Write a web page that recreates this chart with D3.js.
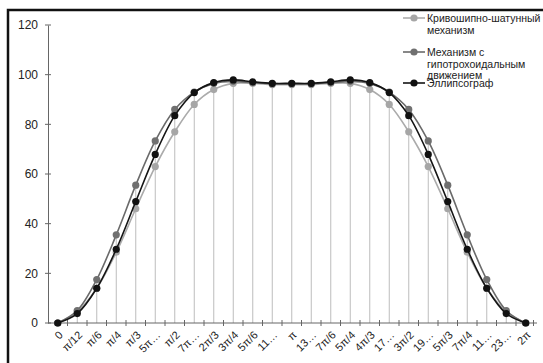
<!DOCTYPE html>
<html><head><meta charset="utf-8">
<script src="https://cdn.jsdelivr.net/npm/d3@7"></script>
<style>body{margin:0;background:#fff}svg{display:block}text{font-family:"Liberation Sans",Arial,sans-serif}</style>
</head><body><svg id="c" width="543" height="363"></svg>
<script>
const categories = ["0","π/12","π/6","π/4","π/3","5π…","π/2","7π…","2π/3","3π/4","5π/6","11…","π","13…","7π/6","5π/4","4π/3","17…","3π/2","19…","5π/3","7π/4","11…","23…","2π"];
const seriesNames = ["Кривошипно-шатунный механизм","Механизм с гипотрохоидальным движением","Эллипсограф"];
const crank = [0,4.5,14,28.5,46,63,77,88,94,96.5,96.5,96,96,96,96.5,96.5,94,88,77,63,46,28.5,14,4.5,0];
const hypo  = [0,5,17.5,35.5,55.5,73.3,86,93,96.5,97.3,96.8,96.3,96.3,96.3,96.8,97.3,96.5,93,86,73.3,55.5,35.5,17.5,5,0];
const ellip = [0,3.8,14,29.7,48.9,67.9,83.5,92.8,96.8,97.9,97.1,96.5,96.5,96.5,97.1,97.9,96.8,92.8,83.5,67.9,48.9,29.7,14,3.8,0];
const yTicks = [0,20,40,60,80,100,120];

const svg = d3.select("#c");
const idx = d3.range(categories.length);
const x = d3.scaleBand().domain(idx).range([48,535.5]).padding(0);
const cx = i => x(i) + x.bandwidth()/2;
const y = d3.scaleLinear().domain([0,120]).range([323,25]);

// border
svg.append("rect").attr("x",8).attr("y",10).attr("width",600).attr("height",400)
  .attr("fill","none").attr("stroke","#111").attr("stroke-width",2.5);

const series = [
  {name:seriesNames[0], vals:crank, line:"#ababab", mark:"#a6a6a6"},
  {name:seriesNames[1], vals:hypo,  line:"#6a6a6a", mark:"#707070"},
  {name:seriesNames[2], vals:ellip, line:"#151515", mark:"#111"}
];

// drop lines
svg.append("g").selectAll("line").data(idx).join("line")
  .attr("x1",cx).attr("x2",cx)
  .attr("y1",i=>y(d3.max(series,s=>s.vals[i]))).attr("y2",y(0))
  .attr("stroke","#bdbdbd").attr("stroke-width",1);

// y axis
const ya = svg.append("g").attr("transform","translate(48,0)")
  .call(d3.axisLeft(y).tickValues(yTicks).tickSize(0).tickPadding(10));
ya.select(".domain").attr("stroke","#666");
ya.selectAll("text").attr("font-size",12).attr("fill","#222");
ya.selectAll(".tk").data(yTicks).join("line").attr("class","tk")
  .attr("x1",-3).attr("x2",3).attr("y1",d=>y(d)).attr("y2",d=>y(d)).attr("stroke","#666");

// x axis
const xa = svg.append("g").attr("transform",`translate(0,${y(0)})`);
xa.append("line").attr("x1",48).attr("x2",537).attr("stroke","#666");
const bounds = idx.map(i=>x(i)).concat([x.range()[1]-2]);
xa.selectAll(".tk").data(bounds.slice(1)).join("line").attr("class","tk")
  .attr("x1",d=>d).attr("x2",d=>d).attr("y1",-3).attr("y2",3).attr("stroke","#666");
xa.selectAll(".lb").data(idx).join("text").attr("class","lb")
  .attr("transform",i=>`translate(${cx(i)+3},${10}) rotate(-45)`)
  .attr("text-anchor","end").attr("dy","0.35em").attr("font-size",11).attr("fill","#222")
  .text(i=>categories[i]);

// lines
const lineGen = d3.line().x((d,i)=>cx(i)).y(d=>y(d)).curve(d3.curveCatmullRom.alpha(0.5));
series.forEach(s=>{
  svg.append("path").datum(s.vals).attr("d",lineGen).attr("fill","none")
    .attr("stroke",s.line).attr("stroke-width",1.6);
  svg.append("g").selectAll("circle").data(s.vals).join("circle")
    .attr("cx",(d,i)=>cx(i)).attr("cy",d=>y(d)).attr("r",3.6).attr("fill",s.mark);
});

// legend
const legendRows = [
  {s:series[0], my:18, lines:["Кривошипно-шатунный","механизм"], ty:22},
  {s:series[1], my:52, lines:["Механизм с","гипотрохоидальным","движением"], ty:56},
  {s:series[2], my:83, lines:["Эллипсограф"], ty:87}
];
legendRows.forEach(r=>{
  const g = svg.append("g");
  g.append("line").attr("x1",403).attr("x2",425).attr("y1",r.my).attr("y2",r.my)
    .attr("stroke",r.s.line).attr("stroke-width",1.6);
  g.append("circle").attr("cx",414).attr("cy",r.my).attr("r",3.6).attr("fill",r.s.mark);
  g.selectAll("text").data(r.lines).join("text").attr("x",427).attr("y",(d,k)=>r.ty+k*11.5)
    .attr("font-size",10.5).attr("fill","#222").text(d=>d);
});
</script></body></html>
